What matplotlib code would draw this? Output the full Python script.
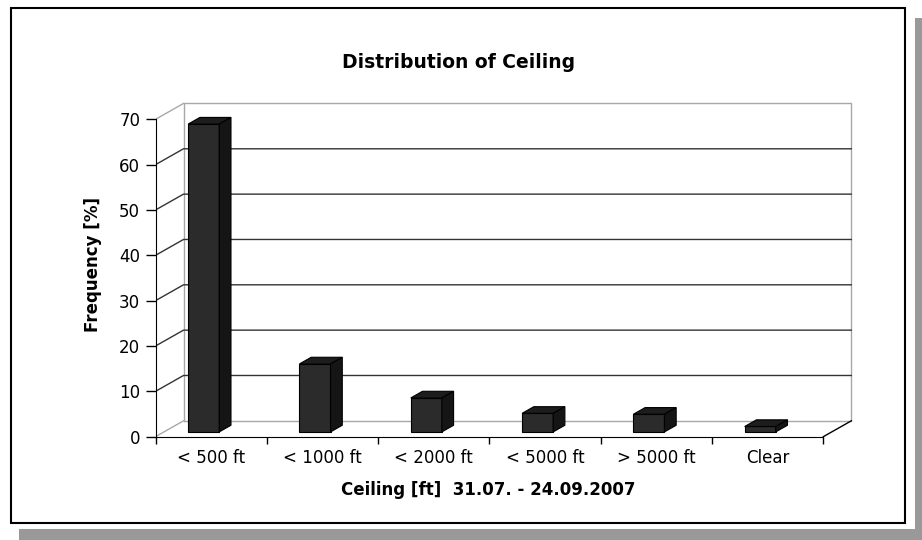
import numpy as np
import matplotlib
matplotlib.use('Agg')
import matplotlib.pyplot as plt
from matplotlib.patches import Polygon, Rectangle

###DATA
categories = ['< 500 ft', '< 1000 ft', '< 2000 ft', '< 5000 ft', '> 5000 ft', 'Clear']
frequency = [67.9, 15.0, 7.5, 4.1, 3.9, 1.2]
y_ticks = [0, 10, 20, 30, 40, 50, 60, 70]

###LAYOUT (pixel geometry of the old excel chart)
W, H = 922, 540
x0_px, cat_px = 155.5, 111.3
y0_px, unit_px = 436.7, 4.534
xmax, ymax = 6.3, 74
DX, DY = 28 / cat_px, 3.5          # depth of the 3d box
d0, d1 = 0.3, 0.72                 # bar depth inside the box
bar_off, bar_w = 0.218, 0.279

plt.rcParams['font.family'] = ['DejaVu Sans']
fig = plt.figure(figsize=(W / 100, H / 100), dpi=100)
fig.patch.set_facecolor('white')

# shadow + frame
fig.patches.append(Rectangle((915 / W, 0), 7 / W, 1 - 18 / H, transform=fig.transFigure,
                             facecolor='#999999', edgecolor='none', zorder=-2))
fig.patches.append(Rectangle((19 / W, 0), 1 - 19 / W, 11 / H, transform=fig.transFigure,
                             facecolor='#999999', edgecolor='none', zorder=-2))
fig.patches.append(Rectangle((11 / W, 1 - 523 / H), 894 / W, 515 / H, transform=fig.transFigure,
                             facecolor='white', edgecolor='black', lw=1.5, zorder=-1))

ax = fig.add_axes([x0_px / W, (H - y0_px) / H, xmax * cat_px / W, ymax * unit_px / H])
ax.set_zorder(1)
ax.set_xlim(0, xmax)
ax.set_ylim(0, ymax)
ax.patch.set_visible(False)

n = len(categories)
top = y_ticks[-1]
wall_c = '#a8a8a8'
grid_c = '#333333'

# walls and floor
ax.plot([DX, n + DX, n + DX, DX, DX], [DY, DY, top + DY, top + DY, DY], color=wall_c, lw=1, zorder=1)
ax.plot([0, DX], [0, DY], color=wall_c, lw=1, zorder=1)
ax.plot([0, DX], [top, top + DY], color=wall_c, lw=1, zorder=1)
ax.plot([n, n + DX], [0, DY], color='black', lw=1, zorder=1)
for v in y_ticks[1:-1]:
    ax.plot([0, DX, n + DX], [v, v + DY, v + DY], color=grid_c, lw=1, zorder=1)

# bars
for i, v in enumerate(frequency):
    xl = i + bar_off
    xr = xl + bar_w
    ax.bar(xl + d0 * DX, v, width=bar_w, bottom=d0 * DY, align='edge',
           color='#2b2b2b', edgecolor='black', lw=0.8, zorder=3)
    ax.add_patch(Polygon([(xl + d0 * DX, v + d0 * DY), (xr + d0 * DX, v + d0 * DY),
                          (xr + d1 * DX, v + d1 * DY), (xl + d1 * DX, v + d1 * DY)],
                         closed=True, facecolor='#1d1d1d', edgecolor='black', lw=0.8, zorder=3))
    ax.add_patch(Polygon([(xr + d0 * DX, d0 * DY), (xr + d1 * DX, d1 * DY),
                          (xr + d1 * DX, v + d1 * DY), (xr + d0 * DX, v + d0 * DY)],
                         closed=True, facecolor='#151515', edgecolor='black', lw=0.8, zorder=3))

# axes
for s in ['top', 'right']:
    ax.spines[s].set_visible(False)
ax.spines['left'].set_bounds(0, top)
ax.spines['bottom'].set_bounds(0, n)
ax.set_yticks(y_ticks)
ax.tick_params(axis='y', direction='out', length=7, width=1, pad=4, labelsize=12, colors='black')
ax.set_xticks(np.arange(n + 1))
ax.set_xticklabels([])
ax.tick_params(axis='x', which='major', direction='out', length=5, width=1)
ax.set_xticks(np.arange(n) + 0.5, minor=True)
ax.set_xticklabels(categories, minor=True)
ax.tick_params(axis='x', which='minor', length=0, pad=9, labelsize=12)

# texts
fig.text(459 / W, 1 - 68 / H, 'Distribution of Ceiling', ha='center', va='baseline',
         fontsize=13.5, fontweight='bold')
fig.text(488 / W, 1 - 495 / H, 'Ceiling [ft]  31.07. - 24.09.2007', ha='center', va='baseline',
         fontsize=12, fontweight='bold')
fig.text(93 / W, 1 - 265 / H, 'Frequency [%]', ha='center', va='center', rotation=90,
         fontsize=12, fontweight='bold')

fig.savefig('out.png', dpi=100, facecolor='white')
